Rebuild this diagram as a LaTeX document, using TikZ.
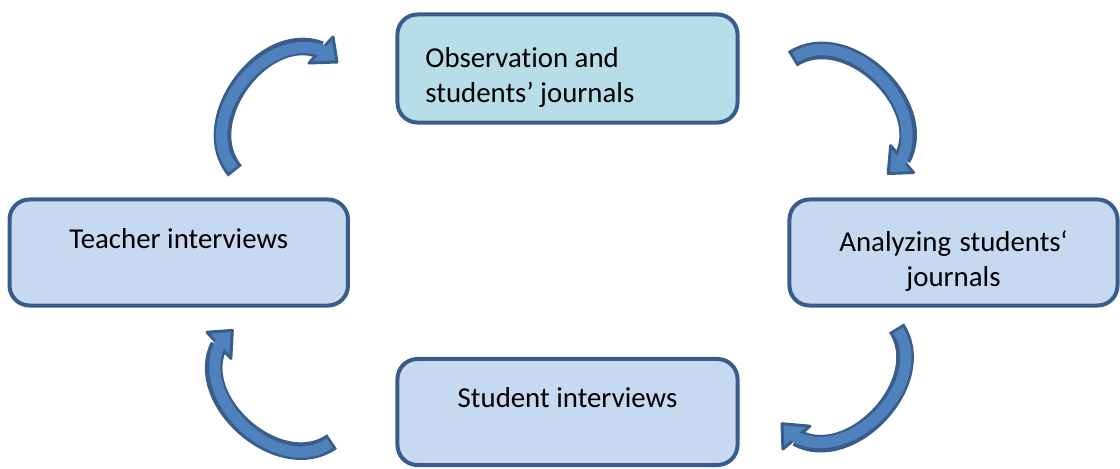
\documentclass[tikz,border=0pt]{standalone}
\usepackage{fontspec}
\setmainfont{Carlito}[Ligatures=NoCommon]
\usepackage{xcolor}
\usepackage{tikz}

\definecolor{stageline}{HTML}{385D8A}
\definecolor{stagefill}{HTML}{C6D9F1}
\definecolor{obsfill}{HTML}{B7DDE8}
\definecolor{arrowfill}{HTML}{4F81BD}

\tikzset{
  stage/.style={draw=stageline, fill=stagefill, line width=0.1cm,
    rounded corners=0.5cm, minimum height=2.65cm, align=center,
    font=\fontsize{20.5}{24.5}\selectfont},
  oneline/.style={text depth=20pt},
  twoline/.style={text height=27pt,
    execute at begin node={\spaceskip=0pt\xspaceskip=0pt\relax}},
  bodyline/.style={draw=stageline, line width=0.44cm},
  bodyfill/.style={draw=arrowfill, line width=0.28cm},
  headtip/.style={fill=arrowfill, draw=stageline, line width=0.075cm, line join=round},
}

\newcommand{\cyclearrow}{%
  \draw[bodyline] (-38.5,64) .. controls (-80,15) and (-10,-80) .. (47.5,-57);
  \draw[headtip] (59.5,-70) -- (63.5,-45) -- (35.5,-44) -- cycle;
  \draw[bodyfill, shorten <=0.07cm, shorten >=-0.1cm]
    (-38.5,64) .. controls (-80,15) and (-10,-80) .. (47.5,-57);
}

\begin{document}
\begin{tikzpicture}[x=0.025cm, y=-0.025cm]
    \useasboundingbox (0,0) rectangle (1120,468);

    \node[stage, fill=obsfill, minimum width=8.5cm, minimum height=2.7cm,
      text width=7.1cm, inner xsep=0.7cm, align=left, twoline]
      (obs) at (567.5,68.5) {Observation and\\students’ journals};

    \node[stage, minimum width=8.46cm, oneline]
      (teacher) at (178.75,252.5) {Teacher interviews};

    \node[stage, minimum width=8.2cm, text width=7.5cm, inner xsep=0.35cm, twoline]
      (analyze) at (953.5,252.5) {Analyzing students‘\\journals};

    \node[stage, minimum width=8.5cm, oneline]
      (student) at (567.5,412) {Student interviews};

    \begin{scope}[shift={(273.5,107)}]
      \cyclearrow
    \end{scope}
    \begin{scope}[shift={(851.3,105)}, rotate=-97]
      \cyclearrow
    \end{scope}
    \begin{scope}[shift={(850.5,386.8)}, rotate=173]
      \cyclearrow
    \end{scope}
    \begin{scope}[shift={(271.6,397.6)}, rotate=85]
      \cyclearrow
    \end{scope}
\end{tikzpicture}
\end{document}
